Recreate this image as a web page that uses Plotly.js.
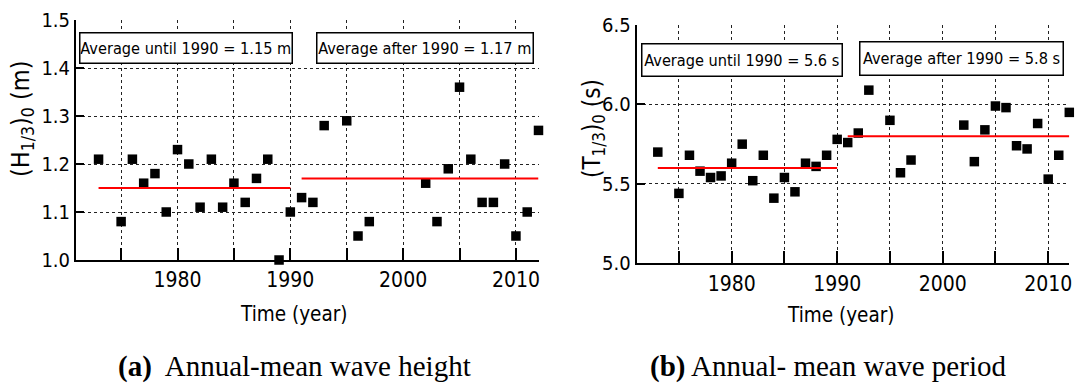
<!DOCTYPE html>
<html>
<head>
<meta charset="utf-8">
<script src="https://cdn.plot.ly/plotly-3.0.1.min.js"></script>
<style>html,body{margin:0;padding:0;background:#fff;}#chart{width:1075px;height:383px;}</style>
</head>
<body>
<div id="chart"></div>
<script>
// ---- data ----
const years = [1973,1975,1976,1977,1978,1979,1980,1981,1982,1983,1984,1985,1986,1987,1988,1989,1990,1991,1992,1993,1995,1996,1997,2002,2003,2004,2005,2006,2007,2008,2009,2010,2011,2012];
const waveHeight = [1.21,1.08,1.21,1.16,1.18,1.10,1.23,1.20,1.11,1.21,1.11,1.16,1.12,1.17,1.21,1.00,1.10,1.13,1.12,1.28,1.29,1.05,1.08,1.16,1.08,1.19,1.36,1.21,1.12,1.12,1.20,1.05,1.10,1.27];
const wavePeriod = [5.70,5.44,5.68,5.58,5.54,5.55,5.63,5.75,5.52,5.68,5.41,5.54,5.45,5.63,5.61,5.68,5.78,5.76,5.82,6.09,5.90,5.57,5.65,5.87,5.64,5.84,5.99,5.98,5.74,5.72,5.88,5.53,5.68,5.95];
const periodStarts = [1973, 1991];
const periodEnds = [1990, 2012];
const heightAverages = [1.15, 1.17];
const periodAverages = [5.6, 5.8];
const xTickVals = [1980,1990,2000,2010];
const xTickText = ['1980','1990','2000','2010'];
const xMinorTickVals = [1975,1985,1995,2005];
const hTickVals = [1.0,1.1,1.2,1.3,1.4,1.5];
const hTickText = ['1.0','1.1','1.2','1.3','1.4','1.5'];
const tTickVals = [5.0,5.5,6.0,6.5];
const tTickText = ['5.0','5.5','6.0','6.5'];
const heightBoxTexts = ['Average until 1990 = 1.15 m','Average after 1990 = 1.17 m'];
const periodBoxTexts = ['Average until 1990 = 5.6 s','Average after 1990 = 5.8 s'];
const axisTitlesY = ['(H<sub>1/3</sub>)<sub>0</sub> (m)','(T<sub>1/3</sub>)<sub>0</sub> (s)'];
const axisTitleX = 'Time (year)';
const captions = ['<b>(a)</b>&nbsp; Annual-mean wave height','<b>(b)</b> Annual- mean wave period'];

// ---- layout helpers ----
const W = 1075, H = 383;
const px = v => v / W;
const py = v => 1 - v / H;
const SANS = '"DejaVu Sans Condensed", "Liberation Sans Narrow", "Arial Narrow", sans-serif';
const SERIF = '"Liberation Serif", "Times New Roman", serif';

const traces = [];
function addPanel(xa, ya, vals, avgs) {
  traces.push({
    x: years, y: vals, xaxis: xa, yaxis: ya, type: 'scatter', mode: 'markers',
    marker: {symbol: 'square', size: 9.5, color: '#000'}, cliponaxis: false,
    showlegend: false, hoverinfo: 'x+y'
  });
  for (let i = 0; i < avgs.length; i++) {
    traces.push({
      x: [periodStarts[i], periodEnds[i]], y: [avgs[i], avgs[i]], xaxis: xa, yaxis: ya,
      type: 'scatter', mode: 'lines', line: {color: '#ff0000', width: 2},
      cliponaxis: false, showlegend: false
    });
  }
}
addPanel('x', 'y', waveHeight, heightAverages);
addPanel('x2', 'y2', wavePeriod, periodAverages);

const xBase = {
  range: [1971, 2012], tickmode: 'array', tickvals: xTickVals, ticktext: xTickText,
  ticks: 'inside', ticklen: 12, tickwidth: 2, tickcolor: '#000',
  minor: {tickmode: 'array', tickvals: xMinorTickVals, ticks: 'inside', ticklen: 12, tickwidth: 2, tickcolor: '#000',
          showgrid: true, gridcolor: '#222', gridwidth: 1, griddash: 'dot'},
  showline: true, linewidth: 2, linecolor: '#000', zeroline: false,
  showgrid: true, gridcolor: '#222', gridwidth: 1, griddash: 'dot',
  tickfont: {family: SANS, size: 21, color: '#000'}, fixedrange: true
};
const yBase = {
  tickmode: 'array', ticks: 'inside', ticklen: 8, tickwidth: 2, tickcolor: '#000',
  showline: true, linewidth: 2, linecolor: '#000', zeroline: false,
  showgrid: true, gridcolor: '#222', gridwidth: 1, griddash: 'dot',
  tickfont: {family: SANS, size: 20, color: '#000'}, fixedrange: true
};

const annotations = [];
function box(text, x0, y0, x1, y1) {
  annotations.push({
    text: text, xref: 'paper', yref: 'paper', x: px(x0), y: py(y0),
    xanchor: 'left', yanchor: 'top', showarrow: false,
    width: (x1 - x0) - 3, height: (y1 - y0) - 3, align: 'center', valign: 'middle',
    bgcolor: '#fff', bordercolor: '#000', borderwidth: 1.5, borderpad: 0,
    font: {family: SANS, size: 16.2, color: '#000'}
  });
}
box(heightBoxTexts[0], 78.7, 32.3, 292.3, 64.3);
box(heightBoxTexts[1], 315.7, 32.3, 533.3, 64.7);
box(periodBoxTexts[0], 640.7, 42.7, 842.3, 76.7);
box(periodBoxTexts[1], 859.3, 41, 1064.3, 76);

function label(text, x, y, opts) {
  annotations.push(Object.assign({
    text: text, xref: 'paper', yref: 'paper', x: px(x), y: py(y),
    xanchor: 'center', yanchor: 'middle', showarrow: false,
    font: {family: SANS, size: 22, color: '#000'}
  }, opts || {}));
}
label(axisTitlesY[0], 22, 119, {textangle: -90, font: {family: SANS, size: 25, color: '#000'}});
label(axisTitlesY[1], 593, 128, {textangle: -90, font: {family: SANS, size: 24, color: '#000'}});
label(axisTitleX, 293, 314, {font: {family: SANS, size: 20.5, color: '#000'}});
label(axisTitleX, 840, 315, {font: {family: SANS, size: 20.5, color: '#000'}});
label(captions[0], 294, 366, {font: {family: SERIF, size: 29, color: '#000'}});
label(captions[1], 828, 366, {font: {family: SERIF, size: 29, color: '#000'}});

const layout = {
  width: W, height: H, margin: {l: 0, r: 0, t: 0, b: 0, pad: 0},
  paper_bgcolor: '#fff', plot_bgcolor: 'rgba(0,0,0,0)', showlegend: false,
  xaxis: Object.assign({}, xBase, {domain: [px(76), px(538.5)], anchor: 'y'}),
  yaxis: Object.assign({}, yBase, {domain: [py(260), py(20)], range: [1.0, 1.5], tickvals: hTickVals, ticktext: hTickText, anchor: 'x'}),
  xaxis2: Object.assign({}, xBase, {domain: [px(636.7), px(1069.3)], anchor: 'y2'}),
  yaxis2: Object.assign({}, yBase, {domain: [py(263.3), py(25)], range: [5.0, 6.5], tickvals: tTickVals, ticktext: tTickText, anchor: 'x2'}),
  annotations: annotations
};

Plotly.newPlot('chart', traces, layout, {displayModeBar: false, staticPlot: true});
</script>
</body>
</html>
